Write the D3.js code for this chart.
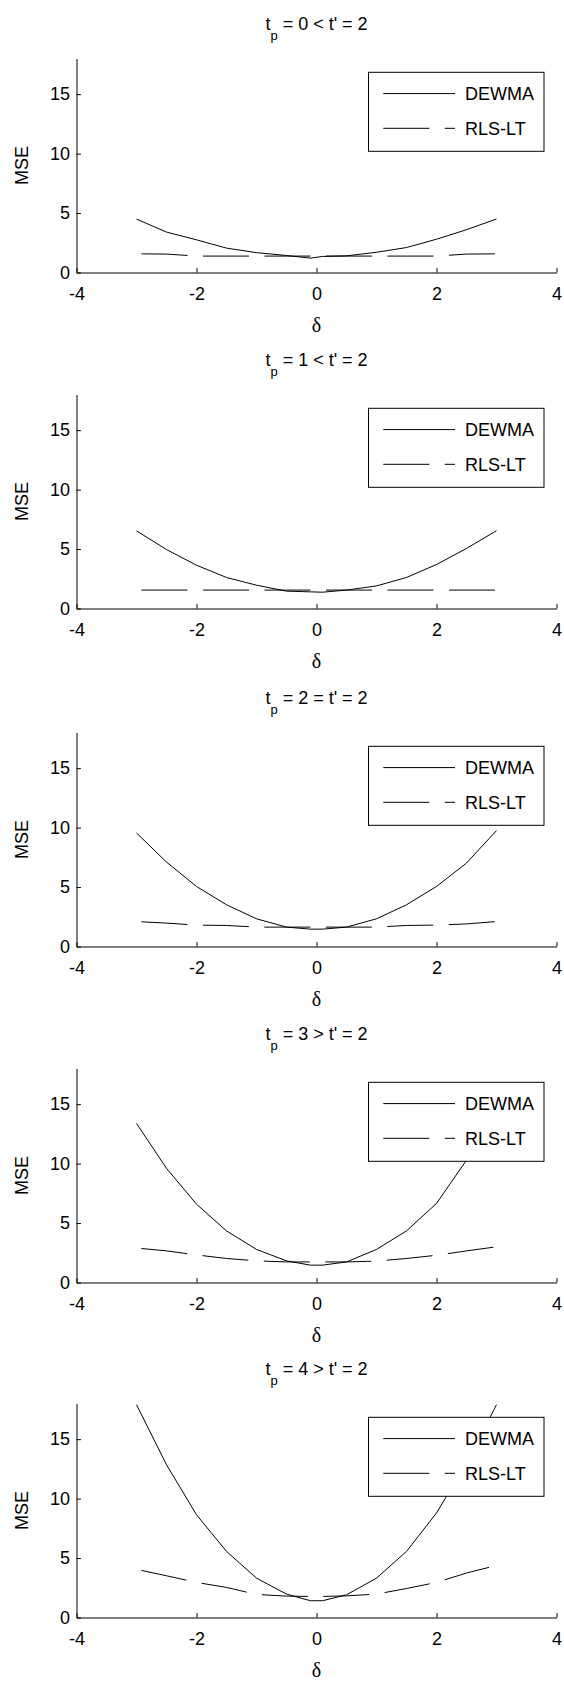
<!DOCTYPE html>
<html>
<head>
<meta charset="utf-8">
<script src="https://cdn.jsdelivr.net/npm/d3@7"></script>
<style>
  html, body { margin: 0; padding: 0; background: #fff; }
  svg { display: block; }
  text { font-family: "Liberation Sans", Arial, Helvetica, sans-serif; fill: #000; }
</style>
</head>
<body>
<svg id="chart" width="564" height="1681"></svg>
<script>
// ---- data ----
const deltas = [-3, -2.5, -2, -1.5, -1, -0.5, -0.1, 0.1, 0.5, 1, 1.5, 2, 2.5, 3];
const titleSuffixes = ["= 0 < t' = 2", "= 1 < t' = 2", "= 2 = t' = 2", "= 3 > t' = 2", "= 4 > t' = 2"];
const seriesNames = ["DEWMA", "RLS-LT"];
const xTicks = [-4, -2, 0, 2, 4];
const yTicks = [0, 5, 10, 15];

const dewma0 = [4.49, 3.40, 2.75, 2.05, 1.67, 1.43, 1.21, 1.35, 1.40, 1.70, 2.10, 2.80, 3.60, 4.50];
const rls0   = [1.57, 1.55, 1.38, 1.38, 1.38, 1.38, 1.38, 1.38, 1.38, 1.38, 1.38, 1.38, 1.55, 1.57];
const dewma1 = [6.53, 4.96, 3.64, 2.61, 1.96, 1.46, 1.40, 1.37, 1.55, 1.90, 2.61, 3.70, 5.05, 6.55];
const rls1   = [1.55, 1.55, 1.55, 1.55, 1.55, 1.55, 1.55, 1.55, 1.55, 1.55, 1.55, 1.55, 1.55, 1.55];
const dewma2 = [9.55, 7.10, 5.05, 3.51, 2.33, 1.63, 1.46, 1.46, 1.63, 2.33, 3.51, 5.05, 7.02, 9.75];
const rls2   = [2.10, 1.97, 1.80, 1.77, 1.63, 1.63, 1.63, 1.63, 1.63, 1.63, 1.77, 1.80, 1.90, 2.10];
const dewma3 = [13.38, 9.60, 6.59, 4.34, 2.78, 1.82, 1.46, 1.46, 1.73, 2.78, 4.34, 6.65, 10.29, 13.6];
const rls3   = [2.90, 2.66, 2.32, 2.02, 1.82, 1.73, 1.73, 1.73, 1.73, 1.80, 2.02, 2.29, 2.66, 3.00];
const dewma4 = [17.9, 12.85, 8.64, 5.56, 3.31, 1.97, 1.41, 1.41, 1.91, 3.31, 5.56, 8.79, 13.0, 17.9];
const rls4   = [4.05, 3.51, 2.95, 2.53, 1.94, 1.80, 1.77, 1.77, 1.82, 1.97, 2.44, 2.95, 3.74, 4.38];

const panels = [
  { dewma: dewma0, rls: rls0 },
  { dewma: dewma1, rls: rls1 },
  { dewma: dewma2, rls: rls2 },
  { dewma: dewma3, rls: rls3 },
  { dewma: dewma4, rls: rls4 }
];

// ---- layout ----
const svg = d3.select("#chart");
const left = 76.5, right = 556.5;
const axisYs = [272.5, 608.5, 946.5, 1282.5, 1617.5];
const plotH = 214;
const DASH = "46,15.5";

const x = d3.scaleLinear().domain([-4, 4]).range([left, right]);

panels.forEach((p, i) => {
  const bottom = axisYs[i];
  const top = bottom - plotH;
  const y = d3.scaleLinear().domain([0, 18]).range([bottom, top]);
  const g = svg.append("g");

  const clipId = "clip" + i;
  g.append("clipPath").attr("id", clipId)
    .append("rect").attr("x", left).attr("y", top).attr("width", right - left).attr("height", plotH);

  // lines
  const line = d3.line().x((d, j) => x(deltas[j])).y(d => y(d));
  const lg = g.append("g").attr("clip-path", `url(#${clipId})`);
  lg.append("path").datum(p.dewma).attr("d", line)
    .attr("fill", "none").attr("stroke", "#000").attr("stroke-width", 1);
  lg.append("path").datum(p.rls).attr("d", line)
    .attr("fill", "none").attr("stroke", "#000").attr("stroke-width", 1)
    .attr("stroke-dasharray", DASH).attr("stroke-dashoffset", 56.5);

  // axes
  const xAxis = d3.axisBottom(x).tickValues(xTicks).tickFormat(d3.format("d"))
    .tickSizeInner(-4.4).tickSizeOuter(0).tickPadding(14.5);
  const gx = g.append("g").attr("transform", `translate(0,${bottom})`).call(xAxis);
  const yAxis = d3.axisLeft(y).tickValues(yTicks).tickFormat(d3.format("d"))
    .tickSizeInner(-4.4).tickSizeOuter(0).tickPadding(6.5);
  const gy = g.append("g").attr("transform", `translate(${left},0)`).call(yAxis);
  [gx, gy].forEach(a => {
    a.selectAll("path.domain").attr("stroke", "#000").attr("stroke-width", 1);
    a.selectAll(".tick line").attr("stroke", "#000").attr("stroke-width", 1);
    a.selectAll("text").attr("font-size", 18)
      .attr("font-family", '"Liberation Sans", Arial, sans-serif').attr("fill", "#000");
  });
  // hyphen-minus like the original
  gx.selectAll("text").text(d => String(d));

  // title
  const cx = (left + right) / 2;
  const t = g.append("text").attr("x", cx).attr("y", top - 28.2)
    .attr("text-anchor", "middle").attr("font-size", 18);
  t.append("tspan").text("t");
  t.append("tspan").attr("font-size", 13).attr("dy", 10).text("p");
  t.append("tspan").attr("dy", -10).text(" " + titleSuffixes[i]);

  // axis labels
  g.append("text").attr("x", cx).attr("y", bottom + 59)
    .attr("text-anchor", "middle").attr("font-size", 20)
    .style("font-family", '"Liberation Serif", "Times New Roman", serif').text("δ");
  g.append("text").attr("transform", `translate(28,${(top + bottom) / 2}) rotate(-90)`)
    .attr("text-anchor", "middle").attr("font-size", 18).text("MSE");

  // legend
  const lx0 = 368.5, lx1 = 544, ly0 = top + 13.8, ly1 = top + 92.8;
  const leg = g.append("g");
  leg.append("rect").attr("x", lx0).attr("y", ly0).attr("width", lx1 - lx0).attr("height", ly1 - ly0)
    .attr("fill", "#fff").attr("stroke", "#000").attr("stroke-width", 1);
  const rows = [35.1, 69.8];
  seriesNames.forEach((name, k) => {
    const ly = top + rows[k];
    const l = leg.append("line").attr("x1", 383.3).attr("x2", 455).attr("y1", ly).attr("y2", ly)
      .attr("stroke", "#000").attr("stroke-width", 1);
    if (k === 1) l.attr("stroke-dasharray", DASH);
    leg.append("text").attr("x", 465).attr("y", ly).attr("dy", "0.35em")
      .attr("font-size", 18).text(name);
  });
});
</script>
</body>
</html>
